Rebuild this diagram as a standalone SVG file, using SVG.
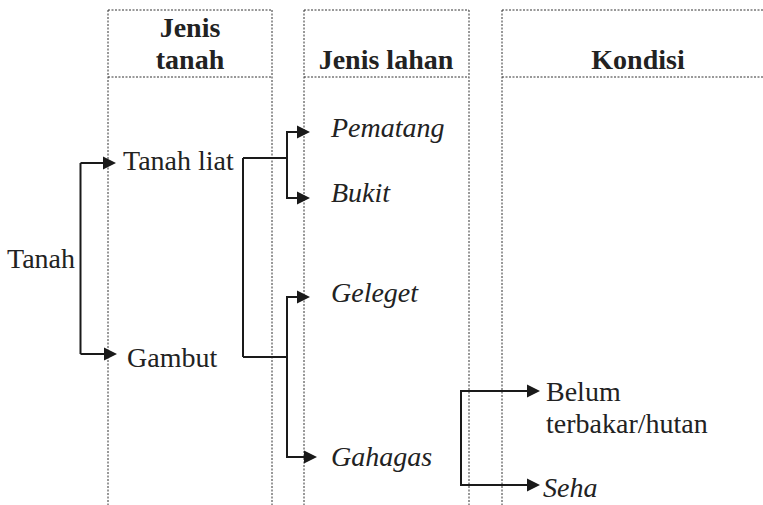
<svg xmlns="http://www.w3.org/2000/svg" xmlns:xlink="http://www.w3.org/1999/xlink" width="763" height="505" viewBox="0 0 763 505">
  <defs>
    <!-- filled arrowhead, tip at the origin, pointing right -->
    <path id="head" d="M0,0 L-13,-6.5 L-13,6.5 Z" fill="#1a1a1a"/>
    <style>
      .col { fill: none; stroke: #333; stroke-width: 1; stroke-dasharray: 2 1.5; }
      .wire { fill: none; stroke: #1a1a1a; stroke-width: 2; }
      text { font-family: "Liberation Serif", "Times New Roman", serif; font-size: 28px; fill: #222; }
      .hd { font-weight: bold; text-anchor: middle; }
      .it { font-style: italic; }
    </style>
  </defs>

  <!-- column frames -->
  <g id="columns">
    <path class="col" d="M108,10 H272 M108,77 H272 M108,10 V505 M272,10 V505"/>
    <path class="col" d="M304,10 H469 M304,77 H469 M304,10 V505 M469,10 V505"/>
    <path class="col" d="M502,10 H763 M502,77 H763 M502,10 V505"/>
  </g>

  <!-- column headings -->
  <g id="headers">
    <text class="hd" x="190" y="37">Jenis</text>
    <text class="hd" x="190" y="69">tanah</text>
    <text class="hd" x="386" y="69">Jenis lahan</text>
    <text class="hd" x="638" y="69">Kondisi</text>
  </g>

  <g id="node-tanah"><text x="7" y="268">Tanah</text></g>
  <g id="node-tanah-liat"><text x="123" y="170">Tanah liat</text></g>
  <g id="node-gambut"><text x="127" y="367">Gambut</text></g>
  <g id="node-pematang"><text class="it" x="331" y="137">Pematang</text></g>
  <g id="node-bukit"><text class="it" x="331" y="202">Bukit</text></g>
  <g id="node-geleget"><text class="it" x="331" y="302">Geleget</text></g>
  <g id="node-gahagas"><text class="it" x="331" y="466">Gahagas</text></g>
  <g id="node-belum">
    <text x="546" y="401">Belum</text>
    <text x="546" y="433">terbakar/hutan</text>
  </g>
  <g id="node-seha"><text class="it" x="543" y="497">Seha</text></g>

  <!-- connectors -->
  <g id="connectors">
    <!-- Tanah -> Tanah liat / Gambut -->
    <path class="wire" d="M80.5,163 V354 M80.5,163 H104 M80.5,354 H105"/>
    <use xlink:href="#head" href="#head" x="116" y="163"/>
    <use xlink:href="#head" href="#head" x="117" y="354"/>
    <!-- Tanah liat / Gambut join -->
    <path class="wire" d="M243,158 V357 M243,158 H287 M243,357 H287"/>
    <!-- Tanah liat -> Pematang / Bukit -->
    <path class="wire" d="M287,132 V198 M286,132 H298 M286,198 H298"/>
    <use xlink:href="#head" href="#head" x="310" y="132"/>
    <use xlink:href="#head" href="#head" x="310" y="198"/>
    <!-- Gambut -> Geleget / Gahagas -->
    <path class="wire" d="M287,297 V457 M286,297 H298 M286,457 H305"/>
    <use xlink:href="#head" href="#head" x="310" y="297"/>
    <use xlink:href="#head" href="#head" x="317" y="457"/>
    <!-- Kondisi branches -->
    <path class="wire" d="M461,391 V485 M460,391 H528 M460,485 H528"/>
    <use xlink:href="#head" href="#head" x="540" y="391"/>
    <use xlink:href="#head" href="#head" x="540" y="485"/>
  </g>
</svg>
